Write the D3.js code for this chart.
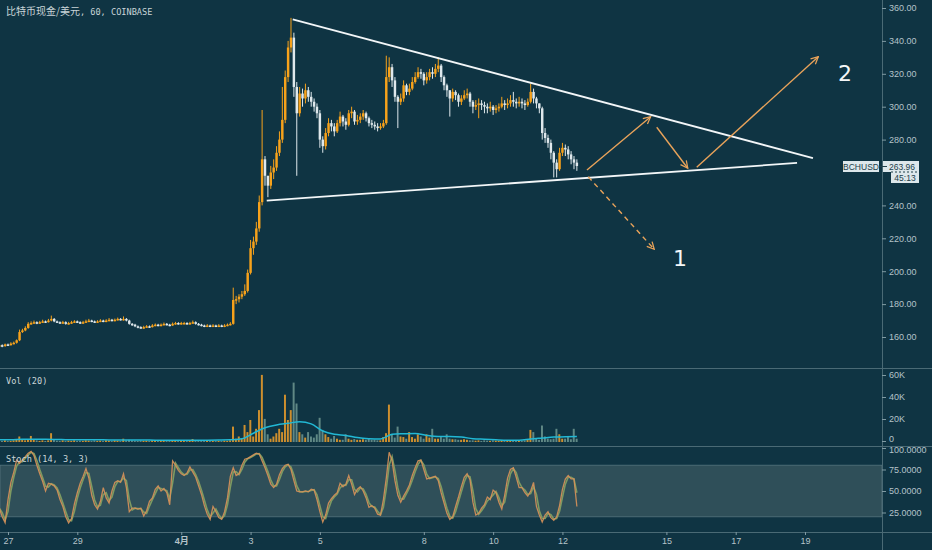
<!DOCTYPE html>
<html>
<head>
<meta charset="utf-8">
<script src="https://cdn.jsdelivr.net/npm/d3@7"></script>
<style>
    html, body { margin: 0; padding: 0; background: #0f3443; overflow: hidden; }
    text { font-family: "Liberation Sans", Arial, sans-serif; }
</style>
</head>
<body>
<svg id="chart" width="932" height="550"></svg>
<script>

// ---- data (2 hour bars, BCHUSD Coinbase) ----
var firstBar = Date.UTC(2019, 2, 26, 18);
var barHours = 2;
var firstOpen = 154.5;

var closes = [155,154.5,155.5,155,156,156.5,158,163,164,165.5,
    168,168.5,169,168.5,169,169.5,169,170,171,169.5,
    169,168.5,169,168,168.5,169,169.5,169,168.5,169,
    169.5,170,169.5,169,169.5,170,169.5,170,170.5,170,
    170.5,171,170.5,171,170,168,167.5,166.5,166,165.5,
    166,166.5,166,167,167.5,167,167.5,168,167.5,167,
    168,168.5,168,168.5,168.5,168,168.5,169,168,167.5,
    167,166.5,167,166.5,167,166.5,167,166.5,167,167.5,
    168,182.5,183,184.5,186,188,199,214,218,226,
    242,268,258,252,260,263,272,280,292,318,
    336,342,312,296,308,305,310,306,303,300,
    296,280,276,284,290,288,285,290,294,291,
    289,296,297,291,292,294,296,293,290,289,
    288,287,288,290,318,324,316,306,303,305,
    313,309,311,315,318,321,320,316,318,321,
    320,323,325,318,313,310,305,309,307,303,
    305,307,308,303,300,301,302,301,300,299,
    300,298,299,300,302,301,302,304,303,302,
    303,302,301,303,309,305,302,299,284,281,
    278,272,266,262,272,275,274,271,268,266,
    263.96];

var highs = [156,155.5,156,156,156.8,157.2,158.5,164.5,165,166.5,
    169,169.5,170,169.5,169.8,170.5,170,171,173,171.5,
    170,169.5,169.8,169.5,169.2,169.8,170.2,170,169.5,169.8,
    170.5,171,170.5,170,170.2,170.8,170.5,170.8,171.5,171,
    171.2,171.8,171.5,172.5,171.5,170.5,168.5,168,167,166.5,
    166.8,167.2,167,167.8,168.2,168,168.2,168.8,168.5,168,
    168.8,169.2,169,169.2,169.2,169,169.2,170,169.5,168.5,
    168,167.5,167.8,167.5,167.8,167.5,167.8,167.5,167.8,168.2,
    169,190,185,186,188,192,201,219,221,230,
    246,298,270,258,264,268,276,285,312,322,
    340,354,345,315,312,311,314,312,309,305,
    302,298,282,287,293,292,290,292,297,295,
    293,298,300,298,295,296,298,297,294,292,
    291,290,290,292,331,330,326,318,307,308,
    316,314,314,318,321,324,323,321,321,323,
    324,326,330,326,319,314,310,311,310,308,
    307,310,311,309,304,304,305,304,303,302,
    303,301,301,302,306,304,305,307,309,305,
    306,305,304,305,314,311,306,302,300,287,
    283,280,273,268,275,278,277,276,273,270,
    268];

var lows = [153.5,153.8,154,154.5,154.8,155.5,156,157.5,162.5,163.5,
    165,167.5,168,167.8,168,168.5,168.5,168.8,169.5,169,
    168.5,168,168,167.5,167.5,168,168.5,168.5,168,168,
    168.8,169,169,168.5,168.5,169,169,169,169.5,169.5,
    169.5,170,170,170,169.5,167.5,166.8,166,165.3,165,
    165,165.5,165.5,165.8,166.5,166.5,166.5,167,167,166.5,
    166.8,167.5,167.5,167.5,167.8,167.5,167.5,168,167.5,167,
    166.5,166,166,166,166,166,166,166,166,166.5,
    167,167.5,180,181,183,185,187,198,210,216,
    224,240,252,245,250,256,261,270,278,290,
    315,333,306,258,294,300,302,303,300,297,
    293,275,272,274,282,285,282,284,288,288,
    286,288,293,289,289,290,292,291,288,287,
    286,285,286,287,289,315,312,303,287,301,
    303,307,307,310,314,317,317,313,314,316,
    317,318,321,315,310,306,294,303,304,300,
    301,304,305,300,296,298,293,298,296,296,
    297,295,296,297,299,298,299,300,300,299,
    300,299,298,300,302,302,299,296,280,278,
    275,268,257,257,261,270,270,268,265,262,
    261];

// volume in thousands
var volumes = [1,1,1.5,1,1,1.5,2,5,2,1.5,
    2,5.5,2,1.5,1,1.5,1,1.5,8,2,
    1.2,1,1.5,1,1.2,1,1.5,1,1.2,1,
    1.5,1.2,1,1.5,1,1.2,1,1.5,1.2,1,
    1.5,1.2,1,3,1.5,2,1.5,1.2,1,1.5,
    1,1.2,1,1.5,1.2,1,1,1.2,1,1.5,
    1,1.2,1,1,1.2,1,1,2.7,1,1.2,
    1,1,1.2,1,1,1.2,1,1,1.2,1,
    1.5,14,3,5,3,15.5,9,20,5,12,
    29,61,21,7,3,5,8,12,9,43,
    20,29,54,35,9,7,4,9,5,4,
    7,22,11,7,4.5,3,5.5,3,2,2,
    7,3,2,2.7,2,2,2.5,2,3,2,
    2,1.5,1.5,4.5,8,34,7,4,14,5,
    4.5,3,9,4.5,3,7,5,3,7,4,
    12,3,3,4.5,3,7,3,2.5,2.5,2,
    2,2.5,2,1.5,1.5,1.2,1.5,1,1.5,1.2,
    1,1.5,1.2,1,1.5,1.2,1,1.5,1.2,1,
    1.5,1.2,1.5,2,11,9,3,2,15,5,
    3,2.5,3,12,7,3,3,4.5,2.5,12,
    3];

// Vol (20) moving average, read every 4th bar
var maStep = 4;
var volumeMA = [2,2,2.5,2.5,2.5,2.3,2,2,2,2,
    1.8,1.8,1.8,1.8,1.6,1.6,1.6,1.7,1.7,1.8,
    2,3,8,13,15.5,17,18.5,16.5,10,7,
    6,4,3,2.7,7,7.5,7.8,6,5,5,
    4.5,3,2.5,2,1.6,1.5,2.7,3.6,4.5,4.7,
    5];

// Stoch %K
var stochK = [30,20,13,40,60,72,86,82,86,90,
    94,96,91,80,70,61,50,59,58,56,
    51,40,32,20,13,18,35,48,59,67,
    76,65,45,34,29,38,54,42,36,50,
    60,62,60,70,54,26,30,30,29,30,
    21,27,38,42,52,56,50,53,48,34,
    85,80,74,70,68,71,78,72,66,56,
    46,33,23,17,32,26,19,17,26,42,
    67,77,68,70,80,87,88,90,92,94,
    93,85,77,68,58,54,58,69,76,80,
    81,75,62,50,49,49,50,49,52,51,
    40,26,14,22,36,41,45,48,59,55,
    58,68,58,46,52,55,50,42,31,33,
    30,23,22,40,65,95,85,62,45,37,
    44,50,57,68,77,85,86,75,64,65,
    66,67,62,48,36,24,17,20,32,43,
    55,66,70,63,37,22,24,30,34,43,
    40,51,48,37,29,45,65,75,77,66,
    54,54,48,44,50,60,32,22,14,22,
    26,19,16,20,33,52,64,68,64,64,
    32];

var priceTicks = [160, 180, 200, 220, 240, 280, 300, 320, 340, 360];
var volumeTicks = [0, 20, 40, 60];
var stochTicks = [25, 50, 75, 100];
var dayTicks = ["2019-03-27", "2019-03-29", "2019-04-01", "2019-04-03", "2019-04-05",
    "2019-04-08", "2019-04-10", "2019-04-12", "2019-04-15", "2019-04-17", "2019-04-19"];

// drawings on the price pane: [time, price]
var trendLines = [
    [["2019-04-04T05:12", 353.1], ["2019-04-19T05:30", 268.8]],
    [["2019-04-03T11:12", 242.9], ["2019-04-18T18:30", 265.8]]
];
var arrows = [
    [["2019-04-12T17:00", 261.5], ["2019-04-14T13:06", 293.9], false],
    [["2019-04-14T17:18", 287.5], ["2019-04-15T14:48", 262.6], false],
    [["2019-04-15T21:00", 263.2], ["2019-04-19T09:12", 330.4], false],
    [["2019-04-12T17:54", 257.4], ["2019-04-14T15:36", 213.3], true]
];
var notes = [["1", "2019-04-15T09:24", 208], ["2", "2019-04-20T03:42", 320.5]];

var symbol = "BCHUSD";
var countdown = "45:13";

// ---- layout ----
var width = 932, height = 550;
var axisX = 882;
var priceBottom = 368, volBottom = 446, stochBottom = 532;

var bg = "#0f3443",
    gridLine = "#4a6a75",
    axisText = "#b4c3c9",
    upColor = "#f7a21b",
    downColor = "#dfe8ec",
    drawColor = "#e9a35a";

var parseMin = d3.utcParse("%Y-%m-%dT%H:%M");
var parseDay = d3.utcParse("%Y-%m-%d");

var bars = closes.map(function(c, i) {
    return {
        time: new Date(firstBar + i * barHours * 3600e3),
        open: i == 0 ? firstOpen : closes[i - 1],
        close: c,
        high: highs[i],
        low: lows[i],
        volume: volumes[i],
        k: stochK[i],
        // %D smooths %K over the last 3 hours (1.5 bars of 2h)
        d: d3.mean(stochK.slice(Math.max(0, i - 1), i + 1))
    };
});

var x = d3.scaleUtc()
    .domain([parseDay("2019-03-27"), parseDay("2019-04-19")])
    .range([8, 805]);

var yPrice = d3.scaleLinear().domain([160, 360]).range([337, 8]);
var yVol = d3.scaleLinear().domain([0, 60]).range([442, 376]);
var yStoch = d3.scaleLinear().domain([0, 100]).range([534, 448]);

var svg = d3.select("#chart");

svg.append("rect")
    .attr("width", width)
    .attr("height", height)
    .attr("fill", bg);

var defs = svg.append("defs");

function clip(id, y0, y1, x0, x1) {
    defs.append("clipPath").attr("id", id)
        .append("rect")
        .attr("x", x0).attr("y", y0)
        .attr("width", x1 - x0).attr("height", y1 - y0);
}
clip("clipPrice", 0, priceBottom, 0, axisX);
clip("clipVol", priceBottom, volBottom, 0, axisX);
clip("clipStoch", volBottom, stochBottom, 0, axisX);
clip("clipStochAxis", volBottom + 1, stochBottom, axisX, width);

defs.append("marker")
    .attr("id", "head")
    .attr("viewBox", "0 0 10 10")
    .attr("refX", 9).attr("refY", 5)
    .attr("markerWidth", 9).attr("markerHeight", 9)
    .attr("markerUnits", "userSpaceOnUse")
    .attr("orient", "auto")
    .append("path")
    .attr("d", "M1,1 L9,5 L1,9")
    .attr("fill", "none")
    .attr("stroke", drawColor)
    .attr("stroke-width", 1.4);

var barW = Math.max(1, (x(bars[1].time) - x(bars[0].time)) * 0.85);

// ---- price pane ----
var pricePane = svg.append("g").attr("clip-path", "url(#clipPrice)");

var candle = pricePane.selectAll("g.candle")
    .data(bars)
    .enter().append("g")
    .attr("class", "candle")
    .attr("fill", function(d) { return d.close >= d.open ? upColor : downColor; })
    .attr("stroke", function(d) { return d.close >= d.open ? upColor : downColor; });

candle.append("line")
    .attr("x1", function(d) { return x(d.time); })
    .attr("x2", function(d) { return x(d.time); })
    .attr("y1", function(d) { return yPrice(d.high); })
    .attr("y2", function(d) { return yPrice(d.low); })
    .attr("stroke-width", 1);

candle.append("rect")
    .attr("stroke", "none")
    .attr("x", function(d) { return x(d.time) - barW / 2; })
    .attr("width", barW)
    .attr("y", function(d) { return yPrice(Math.max(d.open, d.close)); })
    .attr("height", function(d) {
        return Math.max(1.5, Math.abs(yPrice(d.open) - yPrice(d.close)));
    });

// triangle lines
pricePane.selectAll("line.trend")
    .data(trendLines)
    .enter().append("line")
    .attr("class", "trend")
    .attr("x1", function(d) { return x(parseMin(d[0][0])); })
    .attr("y1", function(d) { return yPrice(d[0][1]); })
    .attr("x2", function(d) { return x(parseMin(d[1][0])); })
    .attr("y2", function(d) { return yPrice(d[1][1]); })
    .attr("stroke", "#f2f6f8")
    .attr("stroke-width", 1.8);

pricePane.selectAll("line.arrow")
    .data(arrows)
    .enter().append("line")
    .attr("class", "arrow")
    .attr("x1", function(d) { return x(parseMin(d[0][0])); })
    .attr("y1", function(d) { return yPrice(d[0][1]); })
    .attr("x2", function(d) { return x(parseMin(d[1][0])); })
    .attr("y2", function(d) { return yPrice(d[1][1]); })
    .attr("stroke", drawColor)
    .attr("stroke-width", 1.4)
    .attr("stroke-dasharray", function(d) { return d[2] ? "5,4" : null; })
    .attr("marker-end", "url(#head)");

pricePane.selectAll("text.note")
    .data(notes)
    .enter().append("text")
    .attr("class", "note")
    .attr("x", function(d) { return x(parseMin(d[1])); })
    .attr("y", function(d) { return yPrice(d[2]); })
    .attr("dy", "0.36em")
    .attr("text-anchor", "middle")
    .attr("fill", "#f4f7f8")
    .style("font-family", "'DejaVu Sans', sans-serif")
    .style("font-size", "22px")
    .text(function(d) { return d[0]; });

svg.append("text")
    .attr("x", 6)
    .attr("y", 15)
    .attr("fill", "#c9d4d8")
    .style("font-family", "'DejaVu Sans Mono', 'Noto Sans CJK SC', monospace")
    .style("font-size", "8.6px")
    .call(function(t) {
        t.append("tspan")
            .style("font-family", "'Noto Sans CJK SC', sans-serif")
            .style("font-size", "10px")
            .text("比特币现金/美元");
        t.append("tspan").text(", 60, COINBASE");
    });

// ---- volume pane ----
var volPane = svg.append("g").attr("clip-path", "url(#clipVol)");

volPane.selectAll("rect.vol")
    .data(bars)
    .enter().append("rect")
    .attr("class", "vol")
    .attr("x", function(d) { return x(d.time) - barW / 2; })
    .attr("width", barW * 0.8)
    .attr("y", function(d) { return yVol(d.volume); })
    .attr("height", function(d) { return yVol(0) - yVol(d.volume); })
    .attr("fill", function(d) { return d.close >= d.open ? "#f0a02a" : "#6f9890"; })
    .attr("opacity", 0.85);

var maLine = d3.line()
    .x(function(d, j) { return x(bars[j * maStep].time); })
    .y(function(d) { return yVol(d); })
    .curve(d3.curveMonotoneX);

volPane.append("path")
    .datum(volumeMA)
    .attr("d", maLine)
    .attr("fill", "none")
    .attr("stroke", "#22b8d4")
    .attr("stroke-width", 1.5);

svg.append("text")
    .attr("x", 6)
    .attr("y", 384)
    .attr("fill", "#c9d4d8")
    .style("font-family", "'DejaVu Sans Mono', monospace")
    .style("font-size", "8.6px")
    .text("Vol (20)");

// ---- stoch pane ----
var stochPane = svg.append("g").attr("clip-path", "url(#clipStoch)");

stochPane.append("rect")
    .attr("x", 0)
    .attr("width", axisX)
    .attr("y", yStoch(80))
    .attr("height", yStoch(20) - yStoch(80))
    .attr("fill", "#2f4f59")
    .attr("stroke", "#55747e")
    .attr("stroke-width", 0.8);

var kLine = d3.line()
    .x(function(d) { return x(d.time); })
    .y(function(d) { return yStoch(d.k); });

var dLine = d3.line()
    .x(function(d) { return x(d.time); })
    .y(function(d) { return yStoch(d.d); });

stochPane.append("path")
    .datum(bars)
    .attr("d", dLine)
    .attr("fill", "none")
    .attr("stroke", "#7d9a62")
    .attr("stroke-width", 1.6);

stochPane.append("path")
    .datum(bars)
    .attr("d", kLine)
    .attr("fill", "none")
    .attr("stroke", "#d8925a")
    .attr("stroke-width", 1.3)
    .attr("opacity", 0.9);

svg.append("text")
    .attr("x", 6)
    .attr("y", 462)
    .attr("fill", "#c9d4d8")
    .style("font-family", "'DejaVu Sans Mono', monospace")
    .style("font-size", "8.6px")
    .text("Stoch (14, 3, 3)");

// ---- separators and axes ----
[priceBottom, volBottom, stochBottom].forEach(function(y) {
    svg.append("line")
        .attr("x1", 0).attr("x2", width)
        .attr("y1", y + 0.5).attr("y2", y + 0.5)
        .attr("stroke", gridLine);
});

svg.append("line")
    .attr("x1", axisX + 0.5).attr("x2", axisX + 0.5)
    .attr("y1", 0).attr("y2", height)
    .attr("stroke", gridLine);

function styleAxis(g) {
    g.select(".domain").remove();
    g.selectAll(".tick line").attr("stroke", "#7f9aa3");
    g.selectAll(".tick text")
        .attr("fill", axisText)
        .style("font-family", "'Liberation Sans', Arial, sans-serif")
        .style("font-size", "9px");
}

svg.append("g")
    .attr("transform", "translate(" + axisX + ",0)")
    .call(d3.axisRight(yPrice).tickValues(priceTicks).tickSize(4).tickPadding(3)
        .tickFormat(d3.format(".2f")))
    .call(styleAxis);

svg.append("g")
    .attr("transform", "translate(" + axisX + ",-1)")
    .call(d3.axisRight(yVol).tickValues(volumeTicks).tickSize(4).tickPadding(3)
        .tickFormat(function(d) { return d == 0 ? "0" : d + "K"; }))
    .call(styleAxis)
    .call(function(g) {
        // the 0 label sits right on the pane border, lift it a little
        g.selectAll(".tick text")
            .attr("transform", function(d) { return d == 0 ? "translate(0,-2)" : null; });
    });

svg.append("g")
    .attr("clip-path", "url(#clipStochAxis)")
    .append("g")
    .attr("transform", "translate(" + axisX + ",0)")
    .call(d3.axisRight(yStoch).tickValues(stochTicks).tickSize(4).tickPadding(3)
        .tickFormat(d3.format(".4f")))
    .call(styleAxis)
    .call(function(g) {
        g.selectAll(".tick text")
            .attr("transform", function(d) { return d == 100 ? "translate(0,1.5)" : null; });
    });

svg.append("g")
    .attr("transform", "translate(0," + stochBottom + ")")
    .call(d3.axisBottom(x).tickValues(dayTicks.map(parseDay)).tickSize(3).tickPadding(3)
        .tickFormat(function(d) {
            return d.getUTCDate() == 1 ? (d.getUTCMonth() + 1) + "月" : d.getUTCDate();
        }))
    .call(styleAxis)
    .call(function(g) {
        g.selectAll(".tick text")
            .style("font-family", "'Liberation Sans', 'Noto Sans CJK SC', sans-serif")
            .style("font-weight", function(d) { return d.getUTCDate() == 1 ? "bold" : "normal"; });
    });

// ---- last price labels ----
var last = bars[bars.length - 1];
var yLast = Math.round(yPrice(last.close));

var tag = svg.append("g").style("font-family", "'Liberation Sans', Arial, sans-serif")
    .style("font-size", "8.5px");

tag.append("rect")
    .attr("x", axisX - 39).attr("y", yLast - 5)
    .attr("width", 36).attr("height", 11)
    .attr("fill", "#dde7eb");
tag.append("text")
    .attr("x", axisX - 21).attr("y", yLast + 3.5)
    .attr("text-anchor", "middle")
    .attr("fill", "#21404a")
    .text(symbol);

tag.append("rect")
    .attr("x", axisX + 1).attr("y", yLast - 5)
    .attr("width", 36).attr("height", 11)
    .attr("fill", "#dde7eb");
tag.append("line")
    .attr("x1", axisX - 3).attr("x2", axisX + 5)
    .attr("y1", yLast + 0.5).attr("y2", yLast + 0.5)
    .attr("stroke", "#21404a");
tag.append("text")
    .attr("x", axisX + 7).attr("y", yLast + 3.5)
    .attr("fill", "#21404a")
    .text(d3.format(".2f")(last.close));

tag.append("rect")
    .attr("x", axisX + 9).attr("y", yLast + 6)
    .attr("width", 28).attr("height", 11)
    .attr("fill", "#dde7eb");
tag.append("line")
    .attr("x1", axisX + 9).attr("x2", axisX + 37)
    .attr("y1", yLast + 6).attr("y2", yLast + 6)
    .attr("stroke", "#21404a")
    .attr("stroke-dasharray", "2,2");
tag.append("text")
    .attr("x", axisX + 23).attr("y", yLast + 14.5)
    .attr("text-anchor", "middle")
    .attr("fill", "#21404a")
    .text(countdown);

</script>
</body>
</html>
